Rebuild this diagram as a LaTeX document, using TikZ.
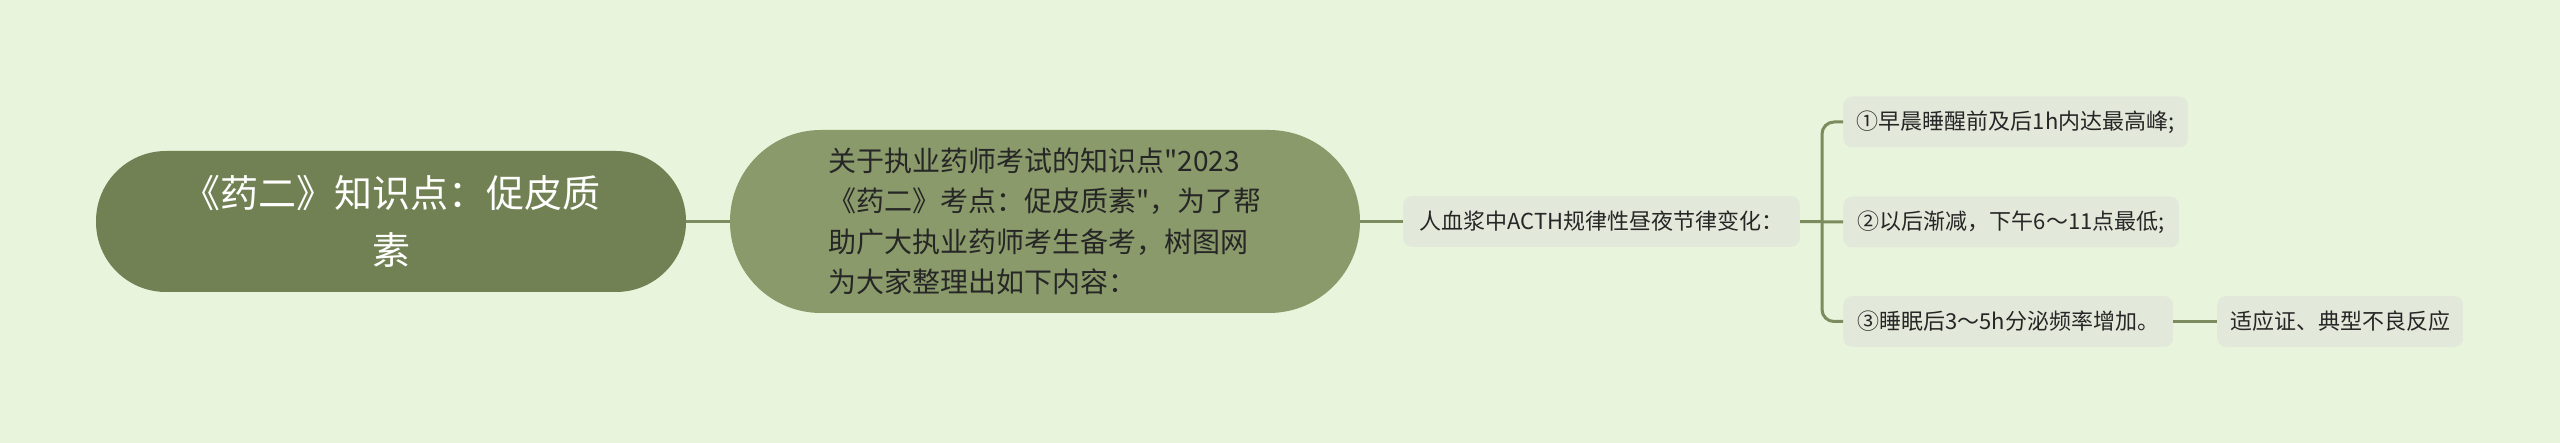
\documentclass[tikz,border=0pt]{standalone}
\usepackage{fontspec}
\setmainfont{Noto Sans CJK SC}[Ligatures=TeXOff]
\definecolor{bgc}{HTML}{E8F5DC}
\definecolor{rootc}{HTML}{718153}
\definecolor{secc}{HTML}{8A9A6A}
\definecolor{leafc}{HTML}{E3E9DA}
\definecolor{linec}{HTML}{7D8C5E}
\definecolor{txtc}{HTML}{262626}
\begin{document}
\begin{tikzpicture}[x=1pt,y=1pt,
  conn/.style={draw=linec,line width=3pt},
  rootbox/.style={rectangle,fill=rootc,rounded corners=70pt,minimum width=590pt,minimum height=141pt,text=white,align=center,inner sep=0pt,font=\fontsize{38pt}{57pt}\selectfont},
  secbox/.style={rectangle,fill=secc,rounded corners=91pt,minimum width=630pt,minimum height=183pt,text=txtc,align=left,inner sep=0pt,font=\fontsize{28pt}{40.5pt}\selectfont},
  leafbox/.style={rectangle,fill=leafc,rounded corners=9pt,minimum height=51pt,text=txtc,inner sep=0pt,font=\fontsize{22pt}{26pt}\selectfont}
]
\fill[bgc] (0,0) rectangle (2560,-443);
\useasboundingbox (0,0) rectangle (2560,-443);

\node[rootbox] (root) at (391,-221.5) {《药二》知识点：促皮质\\素};
\node[secbox] (sec) at (1045,-221.5) {关于执业药师考试的知识点"2023\\《药二》考点：促皮质素"，为了帮\\助广大执业药师考生备考，树图网\\为大家整理出如下内容：};
\node[leafbox,minimum width=397pt] (third) at (1601.5,-221.5) {人血浆中ACTH规律性昼夜节律变化：};
\node[leafbox,minimum width=345pt,anchor=west] (l1) at (1843,-122) {①早晨睡醒前及后1h内达最高峰;};
\node[leafbox,minimum width=336pt,anchor=west] (l2) at (1843,-222) {②以后渐减，下午6～11点最低;};
\node[leafbox,minimum width=330pt,anchor=west] (l3) at (1843,-321.5) {③睡眠后3～5h分泌频率增加。};
\node[leafbox,minimum width=246pt,anchor=west] (l4) at (2217,-321.5) {适应证、典型不良反应};

\coordinate (br) at (1822,-221.5);
\draw[conn] (root.east) -- (sec.west);
\draw[conn] (sec.east) -- (third.west);
\draw[conn] (third.east) -- (l2.west);
\draw[conn,rounded corners=12pt] (l1.west) -| (br) |- (l3.west);
\draw[conn] (l3.east) -- (l4.west);
\end{tikzpicture}
\end{document}
